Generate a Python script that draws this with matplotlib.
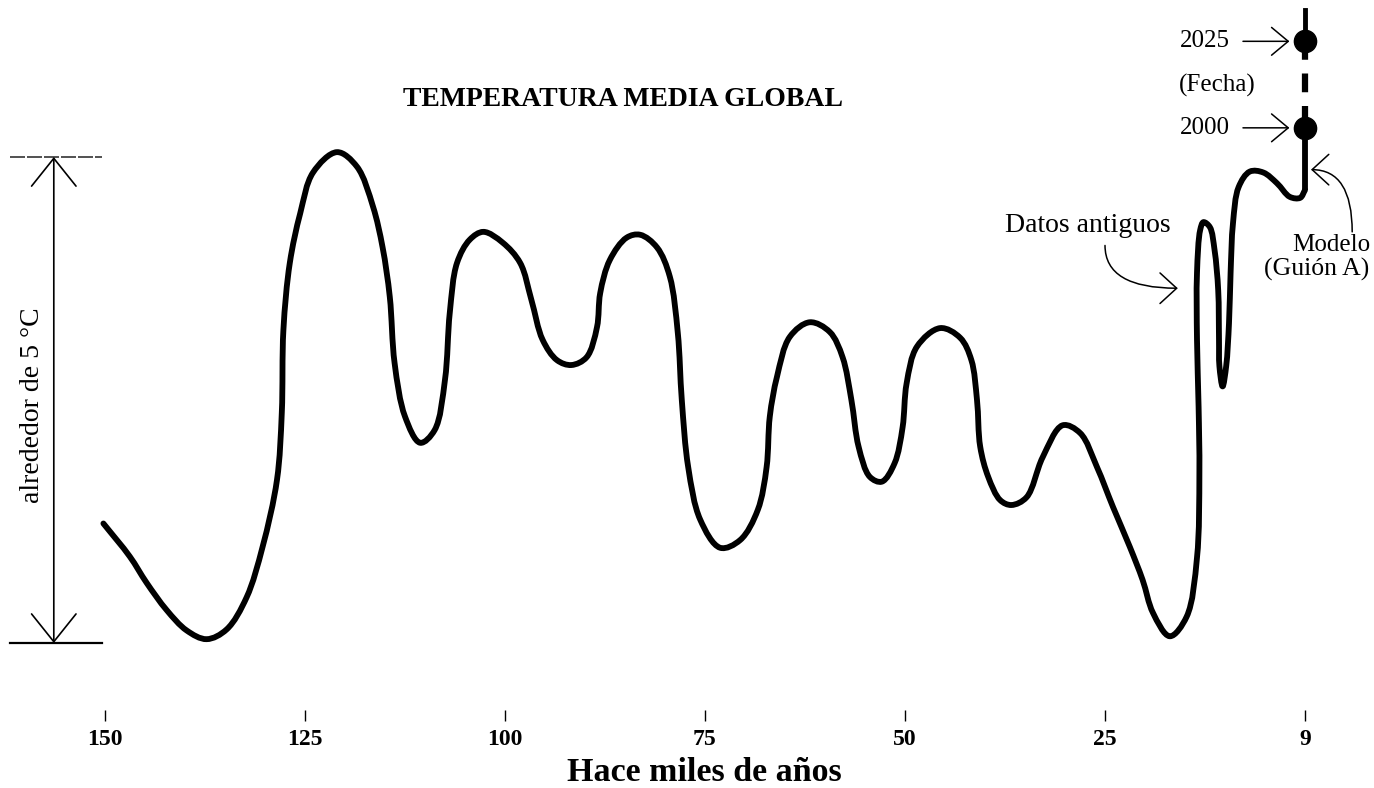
import matplotlib

matplotlib.use("Agg")
import matplotlib.pyplot as plt
import numpy as np
from matplotlib.path import Path
from matplotlib.patches import PathPatch

# Datos antiguos: miles de años (eje invertido) y temperatura relativa (°C)
hace_kyr = [
    150.2, 146.9, 144.8, 142.3, 139.8, 137.3, 134.8, 132.3, 130.3, 128.5,
    127.9, 127.7, 126.9, 125.6, 124.0, 121.0, 118.5, 116.5, 115.3, 114.4,
    113.8, 112.5, 110.6, 108.8, 107.5, 106.9, 106.0, 104.4, 102.7, 100.3,
    98.1, 96.7, 95.3, 93.5, 91.7, 89.8, 88.5, 88.1, 86.9, 84.8,
    83.1, 81.0, 79.4, 78.4, 77.9, 77.1, 75.6, 73.1, 70.6, 68.4,
    67.3, 66.9, 66.0, 64.4, 61.9, 59.4, 57.8, 56.7, 55.8, 54.4,
    52.9, 51.3, 50.3, 49.8, 48.5, 45.6, 43.1, 41.7, 41.0, 40.6,
    39.6, 38.1, 36.7, 34.8, 32.8, 30.3, 28.1, 26.0, 24.0, 21.9,
    20.3, 19.0, 16.9, 14.8, 13.5, 13.2, 13.3, 13.5, 13.5, 13.1,
    12.7, 11.9, 11.3, 10.85, 10.75, 10.7, 10.3, 9.85, 9.5, 9.3, 9.0,
    8.3, 6.9, 5.2, 3.5, 1.9, 0.6, 0.0,
]
temp_rel = [
    1.23, 0.89, 0.62, 0.34, 0.13, 0.04, 0.14, 0.47, 0.99, 1.68,
    2.37, 3.22, 3.91, 4.42, 4.84, 5.05, 4.90, 4.49, 4.07, 3.56,
    2.88, 2.33, 2.06, 2.19, 2.71, 3.40, 3.91, 4.15, 4.23, 4.12,
    3.91, 3.53, 3.12, 2.91, 2.86, 2.94, 3.25, 3.60, 3.94, 4.17,
    4.20, 4.07, 3.77, 3.19, 2.50, 1.81, 1.27, 0.98, 1.06, 1.37,
    1.81, 2.33, 2.74, 3.15, 3.30, 3.20, 2.94, 2.50, 2.02, 1.71,
    1.66, 1.85, 2.22, 2.67, 3.05, 3.24, 3.14, 2.91, 2.50, 2.02,
    1.71, 1.47, 1.42, 1.50, 1.91, 2.24, 2.16, 1.81, 1.40, 0.99,
    0.65, 0.31, 0.07, 0.27, 0.88, 1.75, 2.43, 3.12, 3.81, 4.25,
    4.33, 4.28, 4.04, 3.63, 3.12, 2.85, 2.64, 2.85, 3.29, 3.81, 4.32,
    4.69, 4.85, 4.84, 4.73, 4.59, 4.58, 4.66,
]

# Modelo (Guión A): tramo hasta 2000, proyección 2000 -> 2025
modelo_kyr = [0.0, 0.0]
modelo_temp = [4.66, 5.30]
fechas_kyr = [0.0, 0.0]
fechas_temp = [5.30, 6.19]
fechas_labels = ["2000", "2025"]
sobre_2025_temp = [6.19, 6.51]

# Escala vertical "alrededor de 5 °C"
escala_temp = [0.0, 5.0]

x_ticks = [150, 125, 100, 75, 50, 25, 0]
x_tick_labels = ["150", "125", "100", "75", "50", "25", "9"]

SERIF = ["Liberation Serif", "DejaVu Serif"]
plt.rcParams["font.family"] = SERIF


def smooth_path(ax, xs, ys, alpha=0.5):
    # centripetal Catmull-Rom through the read points (in screen space),
    # handed to matplotlib as cubic Bezier segments in data space
    pts = ax.transData.transform(np.column_stack([xs, ys]))
    ext = np.vstack([pts[0], pts, pts[-1]])
    verts = [pts[0]]
    codes = [Path.MOVETO]
    for i in range(1, len(ext) - 2):
        p0, p1, p2, p3 = ext[i - 1], ext[i], ext[i + 1], ext[i + 2]
        d1 = np.linalg.norm(p1 - p0) ** alpha
        d2 = np.linalg.norm(p2 - p1) ** alpha
        d3 = np.linalg.norm(p3 - p2) ** alpha
        if d1 < 1e-9:
            b1 = p1 + (p2 - p1) / 3.0
        else:
            b1 = (d1 * d1 * p2 - d2 * d2 * p0
                  + (2 * d1 * d1 + 3 * d1 * d2 + d2 * d2) * p1) / (3 * d1 * (d1 + d2))
        if d3 < 1e-9:
            b2 = p2 - (p2 - p1) / 3.0
        else:
            b2 = (d3 * d3 * p1 - d2 * d2 * p3
                  + (2 * d3 * d3 + 3 * d3 * d2 + d2 * d2) * p2) / (3 * d3 * (d3 + d2))
        verts += [b1, b2, p2]
        codes += [Path.CURVE4] * 3
    verts = ax.transData.inverted().transform(np.array(verts))
    return Path(verts, codes)


fig = plt.figure(figsize=(13.74, 7.88), dpi=100)
ax = fig.add_axes([0.0, 0.085, 1.0, 0.915])
ax.set_xlim(163.125, -8.625)
ax.set_ylim(-0.802, 6.615)
for side in ["top", "right", "left", "bottom"]:
    ax.spines[side].set_visible(False)
ax.set_yticks([])

ax.set_xticks(x_ticks)
ax.set_xticklabels(x_tick_labels, fontsize=17, fontweight="bold")
ax.tick_params(axis="x", direction="in", length=8, width=1.0, pad=6, color="black")
ax.set_xlabel("Hace miles de años", fontsize=24.5, fontweight="bold", labelpad=5)
ax.xaxis.label.set_x(0.513)

# Curva de temperatura
curve = PathPatch(smooth_path(ax, hace_kyr, temp_rel), facecolor="none",
                  edgecolor="black", linewidth=4.2, capstyle="round",
                  joinstyle="round")
ax.add_patch(curve)
ax.plot(modelo_kyr, modelo_temp, color="black", linewidth=4.2, solid_capstyle="butt")
ax.plot(fechas_kyr, fechas_temp[::-1], color="black", linewidth=4.5,
        linestyle=(0, (3.0, 2.2)), dash_capstyle="butt")
ax.plot([fechas_kyr[1]] * 2, sobre_2025_temp, color="black", linewidth=3.5)
ax.plot(fechas_kyr, fechas_temp, linestyle="none", marker="o", markersize=16,
        color="black")

# Flechas de fecha
for lab, yv in zip(fechas_labels, fechas_temp):
    ax.annotate(
        "",
        xy=(1.6, yv),
        xytext=(8.1, yv),
        arrowprops=dict(arrowstyle="->,head_length=0.6,head_width=0.5",
                        color="black", lw=1.1, mutation_scale=20),
    )
    ax.text(9.4, yv, lab, fontsize=18, ha="right", va="center")
ax.text(11.0, 5.74, "(Fecha)", fontsize=18, ha="center", va="center")

# Escala vertical
ax.annotate(
    "",
    xy=(156.4, escala_temp[1]),
    xytext=(156.4, escala_temp[0]),
    arrowprops=dict(arrowstyle="<->,head_length=1.0,head_width=0.8",
                    color="black", lw=1.2, mutation_scale=20,
                    shrinkA=0, shrinkB=0),
)
ax.plot([161.9, 150.4], [escala_temp[0]] * 2, color="black", lw=1.6)
ax.plot([161.9, 150.4], [escala_temp[1]] * 2, color="#333333", lw=1.2,
        linestyle=(0, (9, 1.2)))
ax.text(159.1, 2.45, "alrededor de 5 °C", fontsize=20, rotation=90,
        ha="center", va="center")

ax.text(85.25, 5.59, "TEMPERATURA MEDIA GLOBAL", fontsize=20,
        fontweight="bold", ha="center", va="center")

# Datos antiguos
ax.text(27.1, 4.30, "Datos antiguos", fontsize=20, ha="center", va="center")
ax.annotate(
    "",
    xy=(15.9, 3.65),
    xytext=(25.0, 4.09),
    arrowprops=dict(arrowstyle="->,head_length=0.6,head_width=0.55",
                    color="black", lw=1.1, mutation_scale=20,
                    connectionstyle="angle3,angleA=90,angleB=0",
                    shrinkA=0, shrinkB=0),
)

# Modelo (Guión A)
ax.text(-3.25, 4.09, "Modelo", fontsize=18, ha="center", va="center")
ax.text(-1.4, 3.84, "(Guión A)", fontsize=18.5, ha="center", va="center")
ax.annotate(
    "",
    xy=(-0.75, 4.87),
    xytext=(-5.9, 4.23),
    arrowprops=dict(arrowstyle="->,head_length=0.6,head_width=0.55",
                    color="black", lw=1.1, mutation_scale=20,
                    connectionstyle="angle3,angleA=90,angleB=0",
                    shrinkA=0, shrinkB=0),
)

fig.savefig("out.png", dpi=100, facecolor="white")
